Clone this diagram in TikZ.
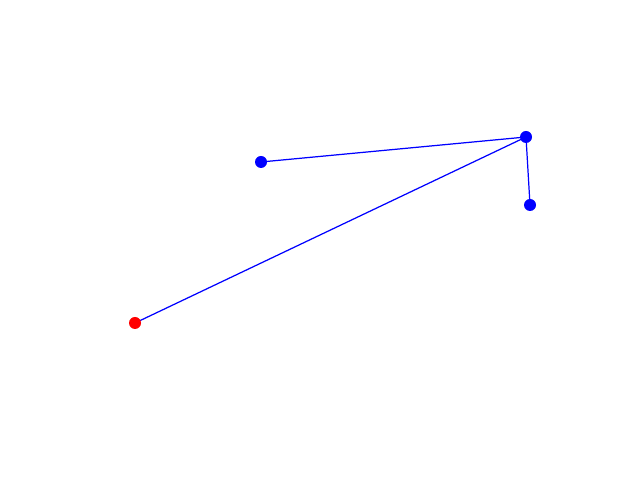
\documentclass[tikz,border=0pt]{standalone}
\usetikzlibrary{backgrounds}
\begin{document}
\begin{tikzpicture}[x=0.01cm,y=-0.01cm,
  dot/.style={circle,inner sep=0pt,minimum size=0.12cm,draw=none},
  edge/.style={blue,line width=0.35pt}]
\useasboundingbox (0,0) rectangle (640,480);
\node[dot,fill=blue] (hub) at (526,137) {};
\node[dot,fill=blue] (left) at (261,162) {};
\node[dot,fill=blue] (low) at (530,205) {};
\node[dot,fill=red] (red) at (135,323) {};
\begin{scope}[on background layer]
\draw[edge] (hub.center) -- (left.center);
\draw[edge] (hub.center) -- (low.center);
\draw[edge] (hub.center) -- (red.center);
\end{scope}
\end{tikzpicture}
\end{document}
